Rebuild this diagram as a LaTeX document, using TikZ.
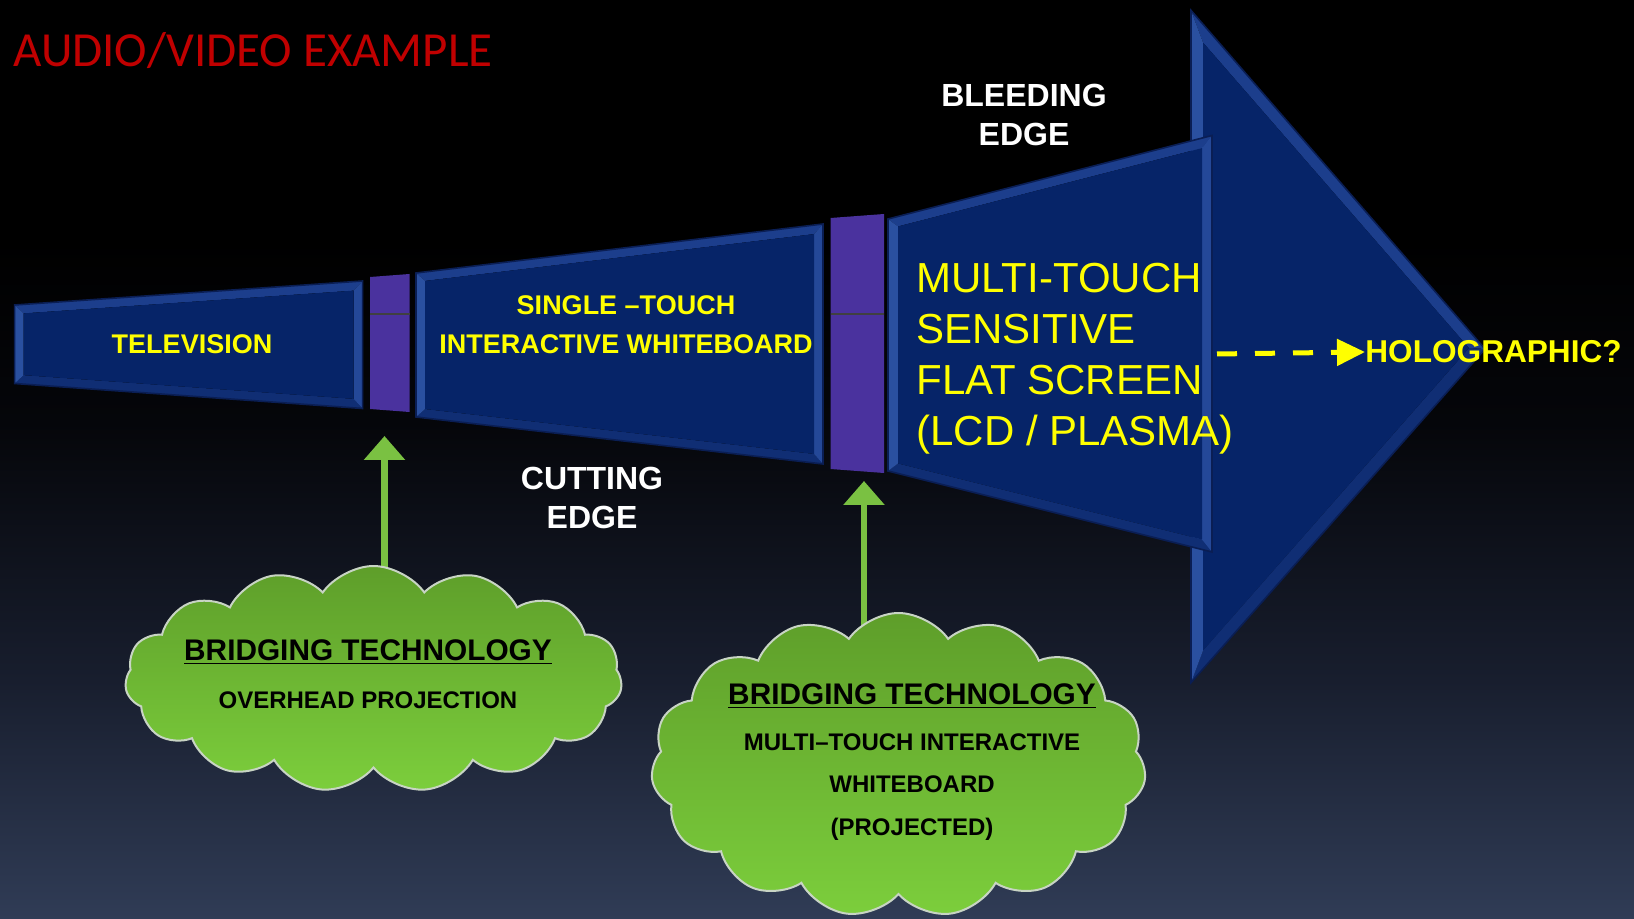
\documentclass[tikz,border=0pt]{standalone}
\usepackage{fontspec}
\setmainfont{Liberation Sans}
\newfontfamily\titlefnt{Carlito}
\usetikzlibrary{shapes.symbols,arrows.meta}
\definecolor{bgbot}{RGB}{48,60,86}
\definecolor{bgmA}{RGB}{24,30,46}
\definecolor{bgmB}{RGB}{5,6,10}
\definecolor{face}{RGB}{6,36,104}
\definecolor{bevL}{RGB}{42,80,160}
\definecolor{bevT}{RGB}{28,62,140}
\definecolor{bevR}{RGB}{36,72,152}
\definecolor{bevB}{RGB}{16,46,116}
\definecolor{rim}{RGB}{10,30,84}
\definecolor{barpur}{RGB}{74,50,158}
\definecolor{ylw}{RGB}{255,255,0}
\definecolor{grn}{RGB}{122,193,66}
\definecolor{cldA}{RGB}{94,158,42}
\definecolor{cldB}{RGB}{124,206,60}
\definecolor{cldrim}{RGB}{200,212,196}
\definecolor{ttlred}{RGB}{192,0,0}
\pgfdeclareverticalshading{bgsh}{100bp}{color(0bp)=(bgbot); color(25bp)=(bgbot); color(38bp)=(bgmA); color(52bp)=(bgmB); color(62bp)=(black); color(100bp)=(black)}
\pgfdeclarelayer{back}
\pgfsetlayers{back,main}
% bevelled trapezoid: x1, top1, bottom1, x2, top2, bottom2, inset
\newcommand\bevbox[7]{%
 \pgfmathsetmacro\bxa{#1+#7}\pgfmathsetmacro\bxb{#4-#7}%
 \pgfmathsetmacro\bta{#2+(#5-#2)*#7/(#4-#1)+#7}%
 \pgfmathsetmacro\btb{#5-(#5-#2)*#7/(#4-#1)+#7}%
 \pgfmathsetmacro\bba{#3+(#6-#3)*#7/(#4-#1)-#7}%
 \pgfmathsetmacro\bbb{#6-(#6-#3)*#7/(#4-#1)-#7}%
 \fill[bevT] (#1,#2) -- (#4,#5) -- (\bxb,\btb) -- (\bxa,\bta) -- cycle;
 \fill[bevB] (#1,#3) -- (#4,#6) -- (\bxb,\bbb) -- (\bxa,\bba) -- cycle;
 \fill[bevL] (#1,#2) -- (\bxa,\bta) -- (\bxa,\bba) -- (#1,#3) -- cycle;
 \fill[bevR] (#4,#5) -- (\bxb,\btb) -- (\bxb,\bbb) -- (#4,#6) -- cycle;
 \fill[face] (\bxa,\bta) -- (\bxb,\btb) -- (\bxb,\bbb) -- (\bxa,\bba) -- cycle;
 \draw[rim, line width=0.8pt] (#1,#2) -- (#4,#5) -- (#4,#6) -- (#1,#3) -- cycle;
}
\tikzset{
 lbl/.style={inner sep=0, align=center},
 boxtxt/.style={lbl, text=ylw, font=\bfseries\fontsize{13.5}{19.3}\selectfont},
 edgetxt/.style={lbl, text=white, font=\bfseries\fontsize{16}{19.3}\selectfont},
 cloudbox/.style={cloud, cloud puffs=15, cloud puff arc=110, cloud ignores aspect, inner sep=0,
   top color=cldA, bottom color=cldB, draw=cldrim, line width=1pt},
 cloudttl/.style={lbl, text=black, font=\bfseries\fontsize{14.9}{18}\selectfont},
 cloudbody/.style={lbl, text=black, font=\bfseries\fontsize{12}{21.3}\selectfont},
 grnarrow/.style={grn, line width=3.1pt, -{Triangle[length=12pt,width=20pt]}},
}
\begin{document}
\begin{tikzpicture}[x=0.5pt,y=-0.5pt]
\useasboundingbox (0,0) rectangle (1634,919);
\begin{pgfonlayer}{back}
\shade[shading=bgsh] (0,0) rectangle (1634,919);
\end{pgfonlayer}

% title
\node[anchor=base west, inner sep=0, text=ttlred, font=\titlefnt\fontsize{24.5}{28}\selectfont] (title) at (13,67) {AUDIO/VIDEO EXAMPLE};

% big arrow head
\fill[bevT] (1191,10.4) -- (1485,349) -- (1469,348) -- (1203,42.5) -- cycle;
\fill[bevB] (1191,682.6) -- (1485,349) -- (1469,348) -- (1203,650.5) -- cycle;
\fill[bevL] (1191,10.4) -- (1203,42.5) -- (1203,650.5) -- (1191,682.6) -- cycle;
\fill[face] (1203,42.5) -- (1469,348) -- (1203,650.5) -- cycle;
\draw[rim, line width=0.8pt] (1191,10.4) -- (1485,349) -- (1191,682.6) -- cycle;

% boxes
\bevbox{14.6}{305}{383.5}{362.6}{281}{408.5}{9}
\bevbox{416}{273}{417}{823}{224}{464}{9}
\bevbox{888}{219}{471}{1212}{135.5}{552}{10}

% purple bars
\fill[barpur] (370,277) -- (409.5,274) -- (409.5,412) -- (370,409) -- cycle;
\draw[black!75, line width=0.6pt] (370,314) -- (409.5,314);
\fill[barpur] (830.5,218) -- (884,214) -- (884,473) -- (830.5,469) -- cycle;
\draw[black!75, line width=0.6pt] (830.5,314) -- (884,314);

% box texts
\node[boxtxt] (tv) at (192,344) {TELEVISION};
\node[boxtxt] (st) at (626,324.5) {SINGLE –TOUCH\\INTERACTIVE WHITEBOARD};
\node[anchor=west, align=left, inner sep=0, text=ylw, font=\fontsize{21}{25.5}\selectfont] (mt) at (916,359) {MULTI-TOUCH\\SENSITIVE\\FLAT SCREEN\\(LCD / PLASMA)};

% edge labels
\node[edgetxt] (bleed) at (1024,115) {BLEEDING\\EDGE};
\node[edgetxt] (cut) at (592,498) {CUTTING\\EDGE};

% holographic
\node[anchor=west, inner sep=0, text=ylw, font=\bfseries\fontsize{15.8}{18}\selectfont] (holo) at (1365,352) {HOLOGRAPHIC?};
\coordinate (h0) at (1217,354);
\draw[ylw, line width=2.5pt, dash pattern=on 10pt off 9pt, -{Triangle[length=14pt,width=13pt]}] (h0) -- (holo.west);

% clouds
\node[cloudbox, minimum width=248.5pt, minimum height=113pt] (cloud1) at (373.5,679) {};
\node[cloudbox, minimum width=247.5pt, minimum height=152pt] (cloud2) at (898.5,765) {};
\node[cloudttl] (c1t) at (368,652) {\underline{BRIDGING TECHNOLOGY}};
\node[cloudbody] (c1b) at (368,700) {OVERHEAD PROJECTION};
\node[cloudttl] (c2t) at (912,696) {\underline{BRIDGING TECHNOLOGY}};
\node[cloudbody] (c2b) at (912,787) {MULTI–TOUCH INTERACTIVE\\WHITEBOARD\\(PROJECTED)};

% green arrows
\coordinate (t1) at (384.5,436);
\coordinate (t2) at (864,481);
\begin{pgfonlayer}{back}
\draw[grnarrow] (cloud1.center -| t1) -- (t1);
\draw[grnarrow] (cloud2.center -| t2) -- (t2);
\end{pgfonlayer}
\end{tikzpicture}
\end{document}
